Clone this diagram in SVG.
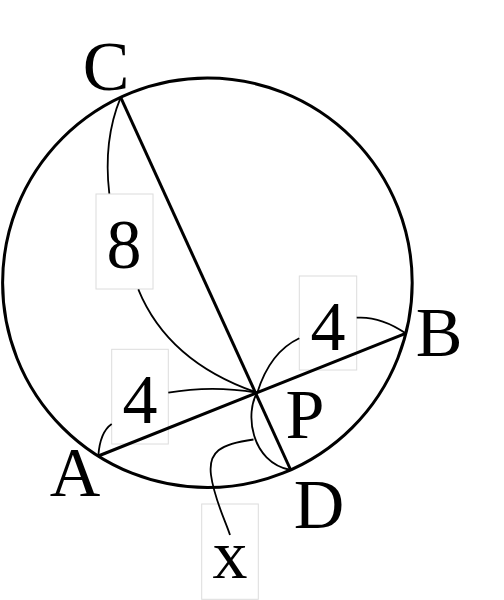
<svg xmlns="http://www.w3.org/2000/svg" width="504" height="600" viewBox="0 0 504 600">
<style>
.lbl{font-family:"Liberation Serif","Times New Roman",serif;font-size:70px;fill:#000;text-anchor:middle}
.box{fill:#fff;stroke:#dcdcdc;stroke-width:1}
.thick{fill:none;stroke:#000;stroke-width:3}
.thin{fill:none;stroke:#000;stroke-width:1.8}
</style>
<rect width="504" height="600" fill="#fff"/>
<g id="circle"><circle cx="207.4" cy="282.8" r="204.8" class="thick"/></g>
<g id="box-8"><rect class="box" x="96" y="194" width="57" height="95"/><text class="lbl" x="124" y="268">8</text></g>
<g id="box-4-upper"><rect class="box" x="299.3" y="276" width="57.4" height="94"/><text class="lbl" x="328" y="350">4</text></g>
<g id="box-4-left"><rect class="box" x="111.7" y="349.3" width="56.6" height="94.7"/><text class="lbl" x="140" y="423">4</text></g>
<g id="box-x"><rect class="box" x="201.7" y="504" width="56.6" height="95.3"/><text class="lbl" x="230" y="578">x</text></g>
<g id="connectors">
<line class="thick" x1="120.7" y1="97.3" x2="290.7" y2="470"/>
<line class="thick" x1="98.3" y1="456" x2="405.7" y2="333.3"/>
<path class="thin" d="M120.7,97.3 Q103,140 109.3,193.5"/>
<path class="thin" d="M138.3,289.3 Q168,362 257.3,392.7"/>
<path class="thin" d="M168.3,392.7 Q212,385 257.3,392.7"/>
<path class="thin" d="M98.3,456 Q100,432 111.7,424"/>
<path class="thin" d="M299.3,338.3 Q270,352 257.3,392.7"/>
<path class="thin" d="M356.7,317.7 Q380,316 405.7,333.3"/>
<path class="thin" d="M257.3,392.7 C245,412 250,462 290.7,470"/>
<path class="thin" d="M253.5,439.5 C220,444 208,452 211,475 S225,520 230,535"/>
</g>
<g id="point-labels">
<text class="lbl" x="106" y="90">C</text>
<text class="lbl" x="439" y="356">B</text>
<text class="lbl" x="305" y="438">P</text>
<text class="lbl" x="319" y="528">D</text>
<text class="lbl" x="75" y="496">A</text>
</g>
</svg>
